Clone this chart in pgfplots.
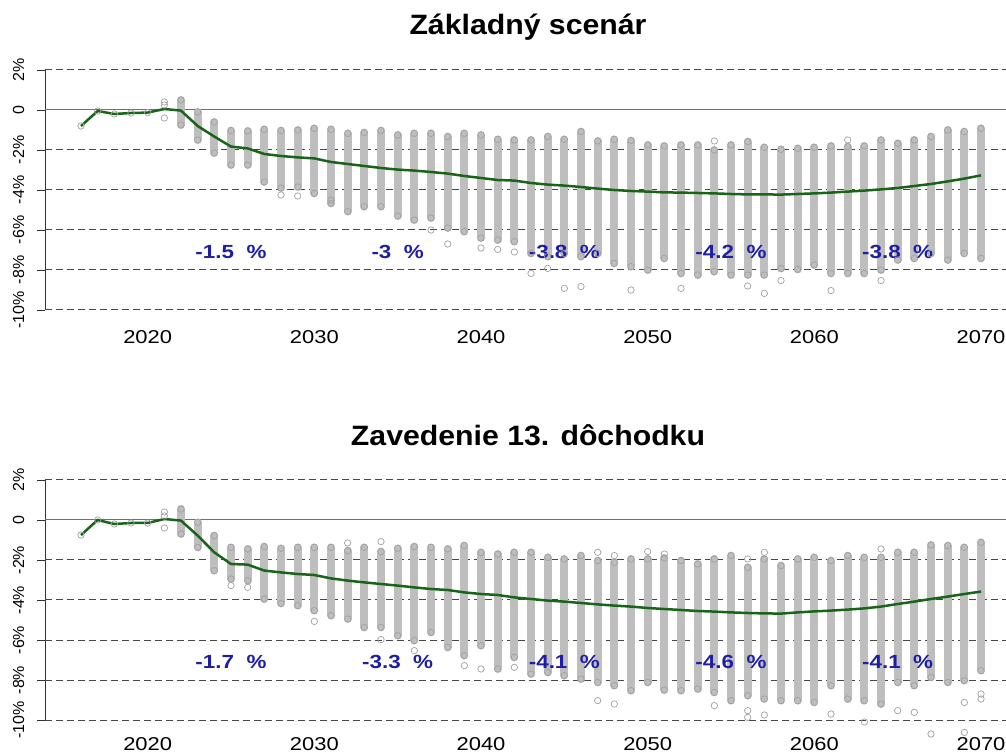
\documentclass[border=0pt]{standalone}
\usepackage{fontspec}
\setmainfont{Liberation Sans}[FakeStretch=1.18]
\newfontfamily\titlefont{Liberation Sans}[FakeStretch=1.08]
\newfontfamily\plainfont{Liberation Sans}
\usepackage{pgfplots}
\usepackage{pgfplotstable}
\pgfplotsset{compat=1.18}
\definecolor{bargray}{RGB}{190,190,190}
\definecolor{circgray}{RGB}{160,160,160}
\definecolor{linegreen}{RGB}{25,100,25}
\definecolor{annblue}{RGB}{30,30,165}
\definecolor{zerored}{RGB}{190,80,70}
\definecolor{gridgray}{RGB}{70,70,70}

% ---------------- top chart ----------------
\pgfplotstableread{
yr lo hi
2022 -0.75 0.5
2023 -1.5 -0.1
2024 -2.15 -0.6
2025 -2.75 -1.03
2026 -2.75 -1.05
2027 -3.6 -0.97
2028 -3.9 -1.03
2029 -3.85 -1.0
2030 -4.17 -0.92
2031 -4.67 -0.97
2032 -5.08 -1.17
2033 -4.83 -1.13
2034 -4.83 -1.03
2035 -5.3 -1.25
2036 -5.5 -1.17
2037 -5.4 -1.17
2038 -5.9 -1.33
2039 -6.08 -1.17
2040 -6.4 -1.25
2041 -6.5 -1.47
2042 -6.58 -1.5
2043 -7.17 -1.5
2044 -7.33 -1.33
2045 -7.17 -1.47
2046 -7.33 -1.08
2047 -7.17 -1.55
2048 -7.67 -1.47
2049 -7.83 -1.53
2050 -8.0 -1.75
2051 -7.42 -1.8
2052 -8.17 -1.75
2053 -8.25 -1.75
2054 -8.08 -2.0
2055 -8.25 -1.75
2056 -8.25 -1.58
2057 -8.25 -1.87
2058 -7.92 -1.97
2059 -7.97 -1.92
2060 -7.75 -1.87
2061 -8.17 -1.8
2062 -8.17 -1.83
2063 -8.17 -1.8
2064 -8.0 -1.5
2065 -7.5 -1.67
2066 -7.42 -1.5
2067 -7.17 -1.33
2068 -7.5 -1.0
2069 -7.17 -1.08
2070 -7.42 -0.92
}\barsA
\pgfplotstableread{
yr v
2016 -0.8
2017 -0.05
2018 -0.2
2019 -0.15
2020 -0.13
2021 0.4
2021 0.25
2021 -0.4
2028 -4.25
2029 -4.3
2031 -4.5
2037 -6.0
2038 -6.7
2040 -6.9
2041 -6.97
2042 -7.1
2043 -8.17
2044 -7.92
2045 -8.92
2046 -8.83
2049 -9.0
2052 -8.92
2054 -1.55
2056 -8.8
2057 -9.17
2058 -8.53
2061 -9.03
2062 -1.5
2064 -8.53
}\outA
\pgfplotstableread{
yr v
2016 -0.8
2017 -0.05
2018 -0.2
2019 -0.15
2020 -0.13
2021 0.05
2022 -0.03
2023 -0.8
2024 -1.33
2025 -1.83
2026 -1.92
2027 -2.2
2028 -2.3
2029 -2.37
2030 -2.42
2031 -2.6
2032 -2.7
2033 -2.8
2034 -2.9
2035 -2.98
2036 -3.03
2037 -3.1
2038 -3.18
2039 -3.3
2040 -3.4
2041 -3.5
2042 -3.53
2043 -3.65
2044 -3.73
2045 -3.78
2046 -3.85
2047 -3.93
2048 -4.0
2049 -4.05
2050 -4.08
2051 -4.12
2052 -4.13
2053 -4.15
2054 -4.17
2055 -4.2
2056 -4.22
2057 -4.22
2058 -4.23
2059 -4.2
2060 -4.17
2061 -4.13
2062 -4.08
2063 -4.03
2064 -3.97
2065 -3.9
2066 -3.8
2067 -3.7
2068 -3.57
2069 -3.43
2070 -3.27
}\medA

% ---------------- bottom chart ----------------
\pgfplotstableread{
yr lo hi
2022 -0.7 0.55
2023 -1.37 -0.12
2024 -2.53 -0.78
2025 -2.95 -1.37
2026 -3.03 -1.45
2027 -3.95 -1.33
2028 -4.17 -1.42
2029 -4.28 -1.37
2030 -4.53 -1.37
2031 -4.78 -1.37
2032 -4.95 -1.53
2033 -5.37 -1.37
2034 -5.37 -1.58
2035 -5.78 -1.42
2036 -6.03 -1.33
2037 -5.62 -1.37
2038 -6.37 -1.45
2039 -6.78 -1.28
2040 -6.28 -1.62
2041 -7.45 -1.7
2042 -6.87 -1.62
2043 -7.7 -1.62
2044 -7.62 -1.87
2045 -7.78 -1.95
2046 -7.95 -1.78
2047 -8.12 -2.03
2048 -8.28 -2.12
2049 -8.53 -1.95
2050 -8.12 -1.95
2051 -8.5 -1.9
2052 -8.53 -2.03
2053 -8.45 -2.2
2054 -8.62 -1.95
2055 -9.03 -1.78
2056 -8.78 -2.37
2057 -8.95 -1.95
2058 -9.03 -2.28
2059 -9.03 -1.95
2060 -9.12 -1.87
2061 -8.28 -2.03
2062 -8.95 -1.78
2063 -9.03 -1.87
2064 -9.2 -1.87
2065 -8.12 -1.62
2066 -8.28 -1.62
2067 -7.87 -1.25
2068 -8.12 -1.28
2069 -8.03 -1.37
2070 -7.53 -1.12
}\barsB
\pgfplotstableread{
yr v
2016 -0.75
2017 0
2018 -0.2
2019 -0.15
2020 -0.15
2021 0.4
2021 0.2
2021 -0.4
2025 -3.28
2026 -3.37
2030 -5.07
2032 -1.15
2034 -1.08
2034 -5.98
2036 -6.53
2039 -7.28
2040 -7.45
2042 -7.37
2047 -1.62
2047 -9.03
2048 -1.78
2048 -9.2
2050 -1.58
2051 -1.7
2054 -9.28
2056 -1.95
2056 -9.53
2056 -9.87
2057 -1.62
2057 -9.75
2061 -9.7
2063 -10.1
2064 -1.45
2065 -9.53
2066 -9.62
2067 -10.7
2069 -9.12
2069 -10.62
2070 -8.7
2070 -8.95
}\outB
\pgfplotstableread{
yr v
2016 -0.75
2017 0
2018 -0.2
2019 -0.15
2020 -0.15
2021 0.05
2022 -0.03
2023 -0.78
2024 -1.62
2025 -2.2
2026 -2.23
2027 -2.53
2028 -2.62
2029 -2.7
2030 -2.75
2031 -2.92
2032 -3.03
2033 -3.12
2034 -3.2
2035 -3.28
2036 -3.37
2037 -3.45
2038 -3.5
2039 -3.62
2040 -3.7
2041 -3.75
2042 -3.87
2043 -3.95
2044 -4.03
2045 -4.08
2046 -4.15
2047 -4.22
2048 -4.28
2049 -4.33
2050 -4.4
2051 -4.45
2052 -4.5
2053 -4.55
2054 -4.58
2055 -4.62
2056 -4.65
2057 -4.67
2058 -4.68
2059 -4.62
2060 -4.57
2061 -4.53
2062 -4.48
2063 -4.42
2064 -4.33
2065 -4.2
2066 -4.08
2067 -3.95
2068 -3.83
2069 -3.7
2070 -3.58
}\medB

\pgfplotsset{
  myax/.style={
    scale only axis, width=961pt, height=240pt,
    anchor=south west,
    xmin=2013.84, xmax=2071.5, ymin=-10, ymax=2,
    clip=false,
    axis x line*=bottom, axis y line*=left,
    x axis line style={draw=none},
    y axis line style={-, black!80, line width=0.9pt},
    xtick={2020,2030,2040,2050,2060,2070},
    xticklabels={2020,2030,2040,2050,2060,2070},
    xtick style={draw=none},
    xticklabel style={font=\fontsize{18.6}{19}\selectfont, anchor=north, inner sep=0pt, yshift=-12pt},
    ytick={-10,-8,-6,-4,-2,0,2},
    yticklabels={-10\%,-8\%,-6\%,-4\%,-2\%,0,2\%},
    ytick style={black!80, line width=0.9pt},
    tick align=outside, major tick length=8pt,
    yticklabel shift=13pt,
    yticklabel style={font=\plainfont\fontsize{16}{16}\selectfont, rotate=90, anchor=base, inner sep=0pt},
  },
  gridl/.style={gridgray, dash pattern=on 7pt off 4pt, line width=1pt, forget plot},
  zerol/.style={zerored, line width=1pt, forget plot},
  mybars/.style={draw=none, mark=none, forget plot,
    error bars/.cd, y dir=plus, y explicit,
    error bar style={draw=bargray, line width=8pt, line cap=round},
    error mark=none},
  mycirc/.style={only marks, mark=o, mark size=3.2pt, mark options={draw=circgray, line width=0.7pt}},
  mymed/.style={linegreen, line width=2.5pt, mark=none},
}
\tikzset{ann/.style={font=\bfseries\fontsize{19}{19}\selectfont, text=annblue}}

\begin{document}
\begin{tikzpicture}[x=1pt,y=1pt]
\path[use as bounding box] (0,0) rectangle (1006,755);
\node[anchor=base, font=\titlefont\bfseries\fontsize{28}{28}\selectfont] at (528,720) {Základný scenár};
\node[anchor=base, font=\titlefont\bfseries\fontsize{28}{28}\selectfont] at (528,309) {Zavedenie 13. dôchodku};

\begin{axis}[myax, at={(45pt,445pt)}]
  \addplot[gridl] coordinates {(2013.84,2) (2071.5,2)};
  \addplot[gridl] coordinates {(2013.84,-2) (2071.5,-2)};
  \addplot[gridl] coordinates {(2013.84,-4) (2071.5,-4)};
  \addplot[gridl] coordinates {(2013.84,-6) (2071.5,-6)};
  \addplot[gridl] coordinates {(2013.84,-8) (2071.5,-8)};
  \addplot[gridl] coordinates {(2013.84,-10) (2071.5,-10)};
  \addplot[zerol] coordinates {(2013.84,0) (2071.5,0)};
  \addplot[mybars] table[x=yr, y=lo, y error plus expr=\thisrow{hi}-\thisrow{lo}] {\barsA};
  \addplot[mycirc] table[x=yr, y=hi] {\barsA};
  \addplot[mycirc] table[x=yr, y=lo] {\barsA};
  \addplot[mycirc] table[x=yr, y=v] {\outA};
  \addplot[mymed] table[x=yr, y=v] {\medA};
  \node[ann] at (axis cs:2025,-7.1) {-1.5\ \ \%};
  \node[ann] at (axis cs:2035,-7.1) {-3\ \ \%};
  \node[ann] at (axis cs:2045,-7.1) {-3.8\ \ \%};
  \node[ann] at (axis cs:2055,-7.1) {-4.2\ \ \%};
  \node[ann] at (axis cs:2065,-7.1) {-3.8\ \ \%};
\end{axis}

\begin{axis}[myax, at={(45pt,35pt)}, xticklabel style={yshift=2.5pt}]
  \addplot[gridl] coordinates {(2013.84,2) (2071.5,2)};
  \addplot[gridl] coordinates {(2013.84,-2) (2071.5,-2)};
  \addplot[gridl] coordinates {(2013.84,-4) (2071.5,-4)};
  \addplot[gridl] coordinates {(2013.84,-6) (2071.5,-6)};
  \addplot[gridl] coordinates {(2013.84,-8) (2071.5,-8)};
  \addplot[gridl] coordinates {(2013.84,-10) (2071.5,-10)};
  \addplot[zerol] coordinates {(2013.84,0) (2071.5,0)};
  \addplot[mybars] table[x=yr, y=lo, y error plus expr=\thisrow{hi}-\thisrow{lo}] {\barsB};
  \addplot[mycirc] table[x=yr, y=hi] {\barsB};
  \addplot[mycirc] table[x=yr, y=lo] {\barsB};
  \addplot[mycirc] table[x=yr, y=v] {\outB};
  \addplot[mymed] table[x=yr, y=v] {\medB};
  \node[ann] at (axis cs:2025,-7.1) {-1.7\ \ \%};
  \node[ann] at (axis cs:2035,-7.1) {-3.3\ \ \%};
  \node[ann] at (axis cs:2045,-7.1) {-4.1\ \ \%};
  \node[ann] at (axis cs:2055,-7.1) {-4.6\ \ \%};
  \node[ann] at (axis cs:2065,-7.1) {-4.1\ \ \%};
\end{axis}
\end{tikzpicture}
\end{document}
